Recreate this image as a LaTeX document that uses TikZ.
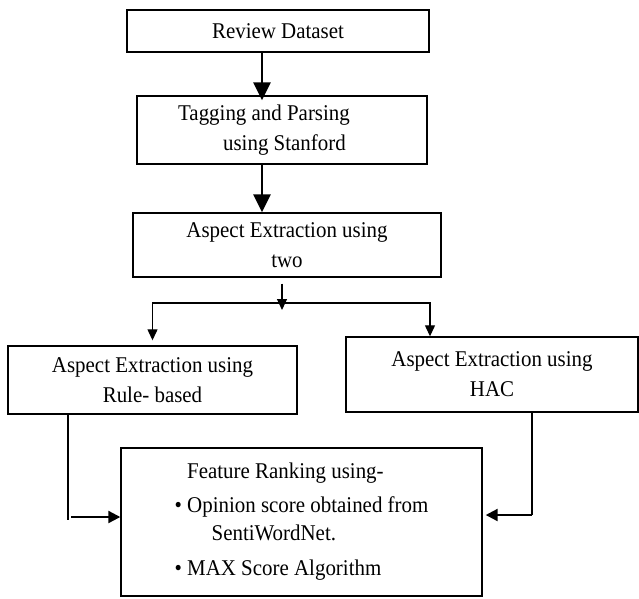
\documentclass[tikz,border=0pt]{standalone}
\usepackage{fontspec}
\setmainfont{Liberation Serif}[FakeStretch=0.93]
\usetikzlibrary{arrows.meta}

\tikzset{
  box/.style={draw, line width=1.4pt, inner sep=0pt, align=center,
    font=\fontsize{22.5}{30}\selectfont},
  bigarrow/.style={line width=2.6pt, -{Triangle[length=18pt,width=17pt]}},
  thinarrow/.style={line width=1.2pt, -{Triangle[length=11pt,width=10pt]}},
  sidearrow/.style={line width=2.2pt, -{Triangle[length=12pt,width=12pt]}},
  sideline/.style={line width=1.2pt}
}

\begin{document}
\begin{tikzpicture}[x=1pt, y=-1pt]
  \useasboundingbox (0,0) rectangle (639,598);

  % Boxes of the pipeline
  \node[box, minimum width=302pt, minimum height=42pt] (review) at (278,31) {Review Dataset};
  \node[box, minimum width=290pt, minimum height=68pt, align=left] (tag) at (282,130)
    {Tagging and Parsing\hspace*{36pt}\\\hspace*{45pt}using Stanford};
  \node[box, minimum width=308pt, minimum height=64pt] (aspect) at (287,245) {Aspect Extraction using\\two};
  \node[box, minimum width=289pt, minimum height=68pt] (rule) at (152.5,380) {Aspect Extraction using\\Rule- based};
  \node[box, minimum width=292pt, minimum height=75pt] (hac) at (492,374.5) {Aspect Extraction using\\HAC};
  \node[box, minimum width=361pt, minimum height=148pt, align=left] (rank) at (301.5,522)
    {\phantom{\textbullet\ }Feature Ranking using-\\[4pt]
     \textbullet\ Opinion score obtained from\\[-2pt]
     \hspace*{37pt}SentiWordNet.\\[5pt]
     \textbullet\ MAX Score Algorithm};

  % Arrows down the main column
  \draw[bigarrow] ([xshift=-16pt]review.south) -- ([xshift=-20pt,yshift=-5pt]tag.north);
  \draw[bigarrow] ([xshift=-20pt]tag.south) -- ([xshift=-25pt]aspect.north);

  % Split into the two methods
  \coordinate (fork) at (282,303);
  \draw[thinarrow] ([xshift=-5pt,yshift=-6pt]aspect.south) -- ([yshift=-7pt]fork);
  \draw[thinarrow, shorten >=5pt] (fork) -| (rule.north);
  \draw[thinarrow] (fork) -| ([xshift=-62pt]hac.north);

  % Both methods feed the ranking
  \coordinate (lbend) at (68,517);
  \draw[sideline] (rule.south -| lbend) -- ([yshift=-3pt]lbend);
  \draw[sidearrow] ([xshift=3pt]lbend) -- (rank.west |- lbend);
  \coordinate (rbend) at (532,515);
  \draw[sideline] (hac.south -| rbend) -- (rbend);
  \draw[sidearrow] (rbend) -- ([xshift=3pt]rank.east |- rbend);
\end{tikzpicture}
\end{document}
